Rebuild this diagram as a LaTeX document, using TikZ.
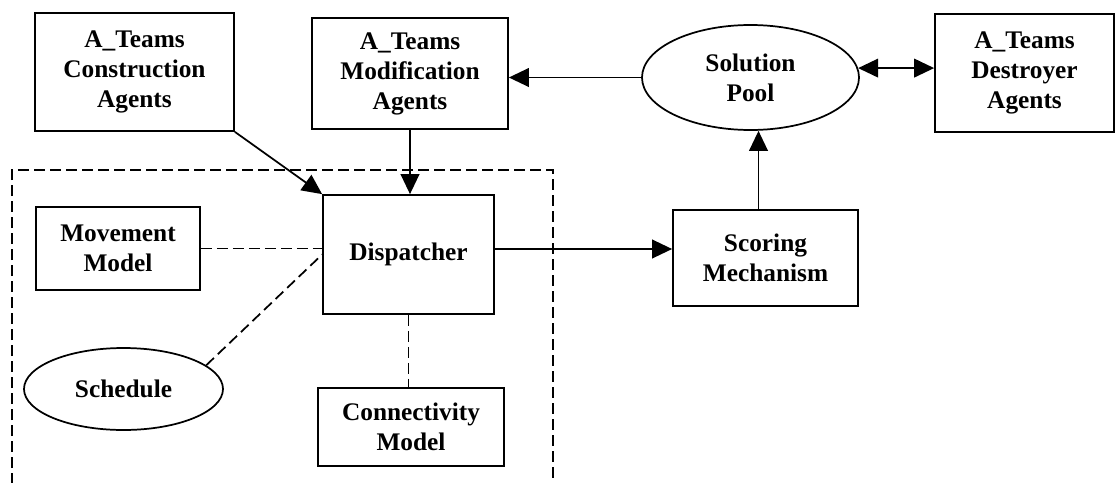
\documentclass[tikz,border=0pt]{standalone}
\usepackage{fontspec}
\setmainfont{Liberation Serif}
\usetikzlibrary{arrows.meta,shapes.geometric,calc}

\tikzset{every picture/.style={line width=1.3pt}}
\tikzset{
  agentbox/.style={draw, rectangle, inner sep=0pt, align=center, font=\fontsize{19}{22.5}\selectfont\bfseries},
  poolell/.style={draw, ellipse, inner sep=0pt, align=center, font=\fontsize{19}{22.5}\selectfont\bfseries},
  link/.style={-{Triangle[length=15pt,width=14pt]}},
  twoway/.style={{Triangle[length=15pt,width=14pt]}-{Triangle[length=15pt,width=14pt]}},
  assoc/.style={dash pattern=on 8pt off 4pt}
}

\begin{document}
\begin{tikzpicture}[x=0.75pt,y=0.75pt,yscale=-1,xscale=1]
\useasboundingbox (0,0) rectangle (1116,482);

%Dispatcher group (dashed frame, open at the bottom)
\draw [assoc] (12,484) -- (12,170) -- (553,170) -- (553,484) ;

%Shape: Rectangle [id:cons]
\node [agentbox, minimum width=149.25pt, minimum height=88.5pt] (cons) at (134.5,72) {A\_Teams\\Construction\\Agents};
%Shape: Rectangle [id:modi]
\node [agentbox, minimum width=147pt, minimum height=83.25pt] (modi) at (410,73.5) {A\_Teams\\Modification\\Agents};
%Shape: Ellipse [id:pool]
\node [poolell, minimum width=162.75pt, minimum height=78.75pt] (pool) at (750.5,77.5) {Solution\\Pool};
%Shape: Rectangle [id:dest]
\node [agentbox, minimum width=134.25pt, minimum height=88.5pt] (dest) at (1024.5,73) {A\_Teams\\Destroyer\\Agents};
%Shape: Rectangle [id:disp]
\node [agentbox, minimum width=128.25pt, minimum height=89.25pt] (disp) at (408.5,254.5) {Dispatcher};
%Shape: Rectangle [id:move]
\node [agentbox, minimum width=123pt, minimum height=62.25pt] (move) at (118,248.5) {Movement\\Model};
%Shape: Ellipse [id:sched]
\node [poolell, minimum width=149.25pt, minimum height=61.5pt] (sched) at (123.5,389) {Schedule};
%Shape: Rectangle [id:conn]
\node [agentbox, minimum width=139.5pt, minimum height=58.5pt] (conn) at (411,427) {Connectivity\\Model};
%Shape: Rectangle [id:score]
\node [agentbox, minimum width=138.75pt, minimum height=72pt] (score) at (765.5,258) {Scoring\\Mechanism};

%Arrows
\draw [link] (cons.south east) -- (disp.north west) ;
\draw [link] (modi.south) -- (modi.south |- disp.north) ;
\draw [link] (pool.west) -- (pool.west -| modi.east) ;
\draw [twoway] (pool.5) -- (pool.5 -| dest.west) ;
\draw [link] ($(score.north)+(-7,0)$) -- ($(score.north |- pool.south)+(-7,0)$) ;
\draw [link] ($(disp.east)+(0,-5.5)$) -- ($(disp.east -| score.west)+(0,-5.5)$) ;

%Dashed links
\draw [assoc] (move.east) -- (move.east -| disp.west) ;
\draw [assoc] (sched.16) -- (disp.west) ;
\draw [assoc] (disp.south) -- (disp.south |- conn.north) ;

\end{tikzpicture}
\end{document}
